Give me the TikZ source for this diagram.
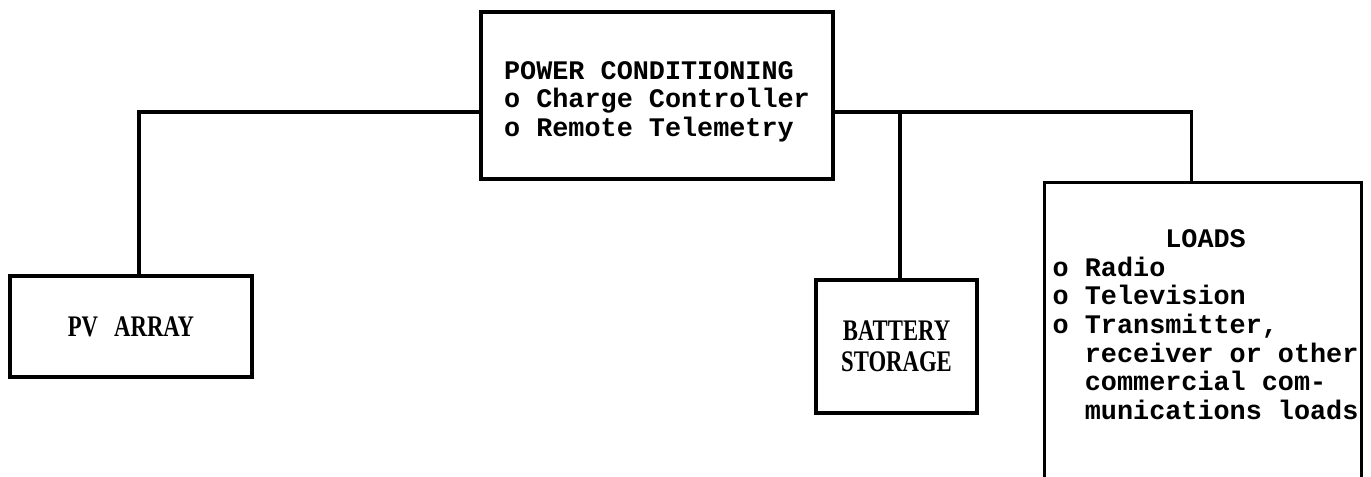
\documentclass[tikz,border=0pt]{standalone}
\usepackage{fontspec}
\setmonofont{Liberation Mono}
\newfontfamily\slabfont[FakeStretch=0.76]{Liberation Serif}
\usetikzlibrary{positioning}

\begin{document}
\begin{tikzpicture}[
  box/.style={rectangle, draw, line width=0.9pt, inner sep=0pt},
  typed/.style={font=\ttfamily\bfseries\fontsize{7.63}{8.15}\selectfont, align=left},
  label/.style={font=\slabfont\bfseries\fontsize{8.5}{8.9}\selectfont, align=center},
  wire/.style={line width=0.9pt}
]
\useasboundingbox (0,0) rectangle (13.71,4.77);
\clip (0,0) rectangle (13.71,4.77);

% blocks
\node[box, typed, minimum width=3.52cm, minimum height=1.67cm] (pc) at (6.57,3.815)
  {\rule{0pt}{0.30cm}POWER CONDITIONING\\o Charge Controller\\o Remote Telemetry};
\node[box, label, minimum width=2.42cm, minimum height=1.01cm] (pv) at (1.31,1.505) {PV\hspace{0.35em} ARRAY};
\node[box, label, minimum width=1.61cm, minimum height=1.33cm] (bat) at (8.965,1.305) {BATTERY\\STORAGE};
\node[box, minimum width=3.17cm, minimum height=3.6cm, anchor=north west] (loads) at (10.43,2.96) {};
\node[typed, inner sep=0pt, anchor=north west] (loadstxt) at (10.52,2.48)
  {~~~~~~~LOADS\\o Radio\\o Television\\o Transmitter,\\~~receiver or other\\~~commercial com-\\~~munications loads};

% wiring
\coordinate (jl) at ([yshift=-0.165cm]pc.west);
\coordinate (jr) at ([yshift=-0.165cm]pc.east);
\draw[wire] (jl) -| ([xshift=0.08cm]pv.north);
\draw[wire] (jr) -| ([xshift=-0.115cm]loads.north);
\draw[wire] ([xshift=0.035cm]bat.north) -- ([xshift=0.035cm]bat.north |- jr);
\end{tikzpicture}
\end{document}
